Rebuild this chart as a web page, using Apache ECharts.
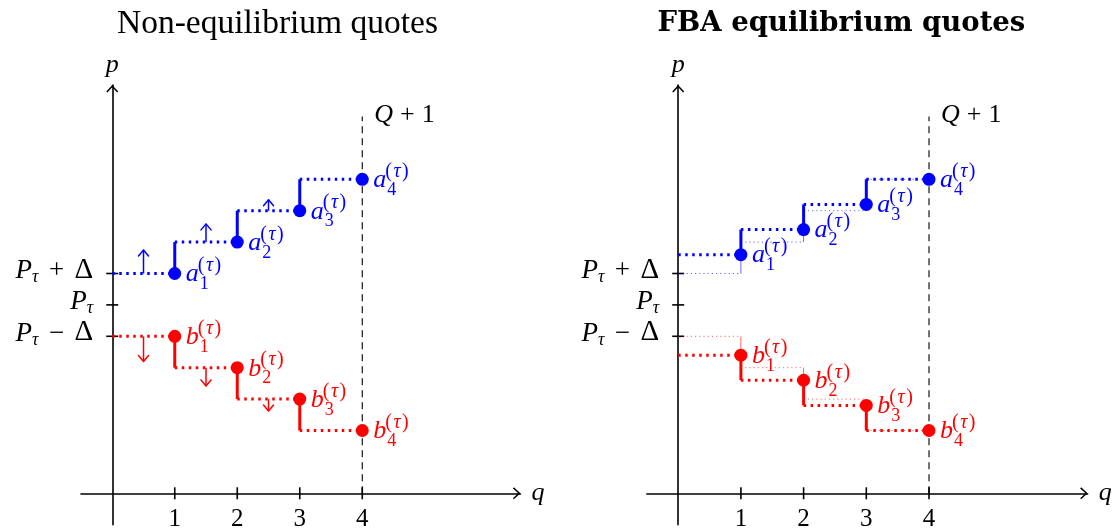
<!DOCTYPE html>
<html>
<head>
<meta charset="utf-8">
<script src="https://cdn.jsdelivr.net/npm/echarts@6/dist/echarts.min.js"></script>
<style>html,body{margin:0;padding:0;background:#fff}#chart{width:1113px;height:531px}</style>
</head>
<body>
<div id="chart"></div>
<script>
// ---------- data ----------
const quantities = [1, 2, 3, 4];
const quantityLabels = ['1', '2', '3', '4'];
const askBefore = [7, 8, 9, 10];
const bidBefore = [5, 4, 3, 2];
const askAfter = [7.6, 8.4, 9.2, 10];
const bidAfter = [4.4, 3.6, 2.8, 2];
const askPushAt = [0.5, 1.5, 2.5];
const askPush = [0.75, 0.58, 0.35];
const bidPushAt = [0.5, 1.5, 2.5];
const bidPush = [0.8, 0.58, 0.38];
const priceTicks = [5, 6, 7];
const priceTickOp = ['\u2212', '', '+'];
const capacityQ = 4;
const capacityTop = 12;
const capacityLabel = ['Q', '+', '1'];
const panelTitles = ['Non-equilibrium quotes', 'FBA equilibrium quotes'];

// ---------- styling ----------
const BLUE = '#0000ff', RED = '#ff0000';
const FAMILY = '"Liberation Serif", "Times New Roman", serif';
const BOLD_FAMILY = '"DejaVu Serif", serif';
const ARROW = 'path://M6,0 L12,6.5 L10.9,7.52 L6,2.2 L1.1,7.52 L0,6.5 Z';

const mctx = document.createElement('canvas').getContext('2d');
function fontOf(size, italic, bold) {
  return (italic ? 'italic ' : '') + (bold ? 'bold ' : '') + size + 'px ' + FAMILY;
}
function mathRun(x, y, pieces, color, align) {
  let cursor = 0, mark = 0, maxEnd = 0;
  const pos = [];
  pieces.forEach(p => {
    if (p.fromMark) cursor = mark + (p.sx || 0); else cursor += (p.gap || 0);
    if (p.mark) mark = cursor;
    pos.push(cursor);
    mctx.font = fontOf(p.size, p.it);
    cursor += mctx.measureText(p.t).width;
    maxEnd = Math.max(maxEnd, cursor);
  });
  const x0 = align === 'right' ? x - maxEnd : align === 'center' ? x - maxEnd / 2 : x;
  return pieces.filter(p => p.t !== '').map((p) => {
    const i = pieces.indexOf(p);
    return {
      type: 'text',
      style: {
        text: p.t, x: x0 + pos[i], y: y + (p.dy || 0), font: fontOf(p.size, p.it),
        fill: color, align: 'left', verticalAlign: 'middle', textAlign: 'left', textVerticalAlign: 'middle'
      }
    };
  });
}
function quotePieces(letter, idx) {
  return [
    { t: letter, size: 26, it: true, dy: 1 },
    { t: String(idx), size: 18, gap: 1, dy: 11, mark: true },
    { t: '(', size: 20, fromMark: true, sx: -2, dy: -7.5 },
    { t: '\u03c4', size: 20, it: true, gap: 1.5, dy: -7.5 },
    { t: ')', size: 20, gap: 1.5, dy: -7.5 }
  ];
}

// ---------- series builders ----------
function stepSeries(gi, levels, color, hWidth, hDash, vWidth, opacity, z) {
  return {
    type: 'custom', xAxisIndex: gi, yAxisIndex: gi, z: z, clip: false, silent: true,
    data: quantities.map((q, i) => [q, levels[i]]),
    renderItem(params, api) {
      const i = params.dataIndex;
      const q = api.value(0), v = api.value(1);
      const a = api.coord([q - 1, v]), b = api.coord([q, v]);
      const kids = [{
        type: 'line', shape: { x1: a[0], y1: a[1], x2: b[0], y2: b[1] },
        style: { stroke: color, lineWidth: hWidth, lineDash: hDash, opacity: opacity, lineCap: 'butt' }
      }];
      if (i + 1 < levels.length) {
        const c = api.coord([q, levels[i + 1]]);
        kids.push({
          type: 'line', shape: { x1: b[0], y1: b[1], x2: c[0], y2: c[1] },
          style: { stroke: color, lineWidth: vWidth, opacity: opacity, lineCap: 'butt' }
        });
      }
      return { type: 'group', children: kids };
    }
  };
}
function dotSeries(gi, levels, color) {
  return {
    type: 'scatter', xAxisIndex: gi, yAxisIndex: gi, z: 6, silent: true,
    symbol: 'circle', symbolSize: 13, itemStyle: { color: color, opacity: 1 },
    data: quantities.map((q, i) => [q, levels[i]])
  };
}
function labelSeries(gi, levels, letter, color) {
  return {
    type: 'custom', xAxisIndex: gi, yAxisIndex: gi, z: 7, clip: false, silent: true,
    data: quantities.map((q, i) => [q, levels[i]]),
    renderItem(params, api) {
      const p = api.coord([api.value(0), api.value(1)]);
      return { type: 'group', children: mathRun(p[0] + 11, p[1], quotePieces(letter, quantities[params.dataIndex]), color, 'left') };
    }
  };
}
function arrowSeries(gi, at, base, push, sign, color) {
  return {
    type: 'custom', xAxisIndex: gi, yAxisIndex: gi, z: 5, clip: false, silent: true,
    data: at.map((x, i) => [x, base[i], base[i] + sign * push[i]]),
    renderItem(params, api) {
      const a = api.coord([api.value(0), api.value(1)]);
      const b = api.coord([api.value(0), api.value(2)]);
      const dir = a[1] > b[1] ? 1 : -1;
      return {
        type: 'group', children: [
          { type: 'line', shape: { x1: a[0], y1: a[1], x2: b[0], y2: b[1] }, style: { stroke: color, lineWidth: 1.5 } },
          { type: 'polyline', shape: { points: [[b[0] - 5, b[1] + 6 * dir], [b[0], b[1]], [b[0] + 5, b[1] + 6 * dir]] },
            style: { stroke: color, lineWidth: 1.5, fill: null, lineJoin: 'round', lineCap: 'round' } }
        ]
      };
    }
  };
}
function xTickSeries(gi) {
  return {
    type: 'custom', xAxisIndex: gi, yAxisIndex: gi, z: 2, clip: false, silent: true,
    data: quantities.map(q => [q, 0]),
    renderItem(params, api) {
      const p = api.coord([api.value(0), api.value(1)]);
      return {
        type: 'group', children: [
          { type: 'line', shape: { x1: p[0], y1: p[1] - 6, x2: p[0], y2: p[1] + 6 }, style: { stroke: '#000', lineWidth: 1.6 } }
        ].concat(mathRun(p[0], p[1] + 26, [{ t: quantityLabels[params.dataIndex], size: 25 }], '#000', 'center'))
      };
    }
  };
}
function yTickSeries(gi) {
  return {
    type: 'custom', xAxisIndex: gi, yAxisIndex: gi, z: 2, clip: false, silent: true,
    data: priceTicks.map(v => [0, v]),
    renderItem(params, api) {
      const p = api.coord([api.value(0), api.value(1)]);
      const op = priceTickOp[params.dataIndex];
      const pieces = [
        { t: 'P', size: 27, it: true, dy: -2.5 },
        { t: '\u03c4', size: 18, it: true, dy: 3.5 }
      ];
      if (op) {
        pieces.push({ t: op, size: 27, gap: 10.5, dy: -2.5 });
        pieces.push({ t: '\u0394', size: 29, gap: 10.5, dy: -3.5 });
      }
      return {
        type: 'group', children: [
          { type: 'line', shape: { x1: p[0] - 6, y1: p[1], x2: p[0] + 6, y2: p[1] }, style: { stroke: '#000', lineWidth: 1.6 } }
        ].concat(mathRun(p[0] - 19, p[1], pieces, '#000', 'right'))
      };
    }
  };
}
function capacitySeries(gi) {
  return {
    type: 'custom', xAxisIndex: gi, yAxisIndex: gi, z: 1, clip: false, silent: true,
    data: [[capacityQ, capacityTop]],
    renderItem(params, api) {
      const top = api.coord([api.value(0), api.value(1)]);
      const bot = api.coord([api.value(0), 0]);
      return {
        type: 'group', children: [
          { type: 'line', shape: { x1: bot[0], y1: bot[1], x2: top[0], y2: top[1] }, style: { stroke: '#000', lineWidth: 1.1, lineDash: [7, 5] } }
        ].concat(mathRun(top[0] + 12, top[1] - 1, [
          { t: capacityLabel[0], size: 26, it: true },
          { t: capacityLabel[1], size: 26, gap: 7 },
          { t: capacityLabel[2], size: 26, gap: 7 }
        ], '#000', 'left'))
      };
    }
  };
}

// ---------- axes ----------
const axisLineCfg = {
  show: true, onZero: true, symbol: ['none', ARROW], symbolSize: [12, 7.5], symbolOffset: [0, -3.75],
  lineStyle: { color: '#000', width: 1.6 }
};
const nameStyle = { fontFamily: FAMILY, fontStyle: 'italic', fontSize: 26, color: '#000' };
function xAxisCfg(gi) {
  return {
    type: 'value', gridIndex: gi, min: -0.5, max: 6.53,
    name: 'q', nameLocation: 'end', nameGap: 11, nameTextStyle: Object.assign({ padding: [0, 0, 8, 0] }, nameStyle),
    axisLine: axisLineCfg, axisTick: { show: false }, axisLabel: { show: false }, splitLine: { show: false }
  };
}
function yAxisCfg(gi) {
  return {
    type: 'value', gridIndex: gi, min: -1, max: 13,
    name: 'p', nameLocation: 'end', nameGap: 7, nameTextStyle: nameStyle,
    axisLine: axisLineCfg, axisTick: { show: false }, axisLabel: { show: false }, splitLine: { show: false }
  };
}

const chart = echarts.init(document.getElementById('chart'), null, { renderer: 'canvas' });
chart.setOption({
  animation: false,
  backgroundColor: '#fff',
  title: [
    { text: panelTitles[0], left: 272.5, top: 2, textAlign: 'center',
      textStyle: { fontFamily: FAMILY, fontWeight: 'normal', fontSize: 33.5, color: '#000' } },
    { text: panelTitles[1], left: 836.4, top: 5, textAlign: 'center',
      textStyle: { fontFamily: BOLD_FAMILY, fontWeight: 'bold', fontSize: 27.5, color: '#000' } }
  ],
  grid: [
    { left: 81, width: 439.4, top: 85.1, height: 439.6, containLabel: false, outerBoundsMode: 'none' },
    { left: 646.85, width: 440.8, top: 85.1, height: 439.6, containLabel: false, outerBoundsMode: 'none' }
  ],
  xAxis: [xAxisCfg(0), xAxisCfg(1)],
  yAxis: [yAxisCfg(0), yAxisCfg(1)],
  series: [
    // left panel
    capacitySeries(0), xTickSeries(0), yTickSeries(0),
    stepSeries(0, askBefore, BLUE, 3, [2.5, 4.5], 3, 1, 3),
    stepSeries(0, bidBefore, RED, 3, [2.5, 4.5], 3, 1, 3),
    arrowSeries(0, askPushAt, askBefore, askPush, 1, BLUE),
    arrowSeries(0, bidPushAt, bidBefore, bidPush, -1, RED),
    dotSeries(0, askBefore, BLUE), dotSeries(0, bidBefore, RED),
    labelSeries(0, askBefore, 'a', BLUE), labelSeries(0, bidBefore, 'b', RED),
    // right panel
    capacitySeries(1), xTickSeries(1), yTickSeries(1),
    stepSeries(1, askBefore, BLUE, 1, [1.2, 3], 1, 0.6, 2),
    stepSeries(1, bidBefore, RED, 1, [1.2, 3], 1, 0.6, 2),
    stepSeries(1, askAfter, BLUE, 3, [2.5, 4.5], 3, 1, 3),
    stepSeries(1, bidAfter, RED, 3, [2.5, 4.5], 3, 1, 3),
    dotSeries(1, askAfter, BLUE), dotSeries(1, bidAfter, RED),
    labelSeries(1, askAfter, 'a', BLUE), labelSeries(1, bidAfter, 'b', RED)
  ]
});
</script>
</body>
</html>
